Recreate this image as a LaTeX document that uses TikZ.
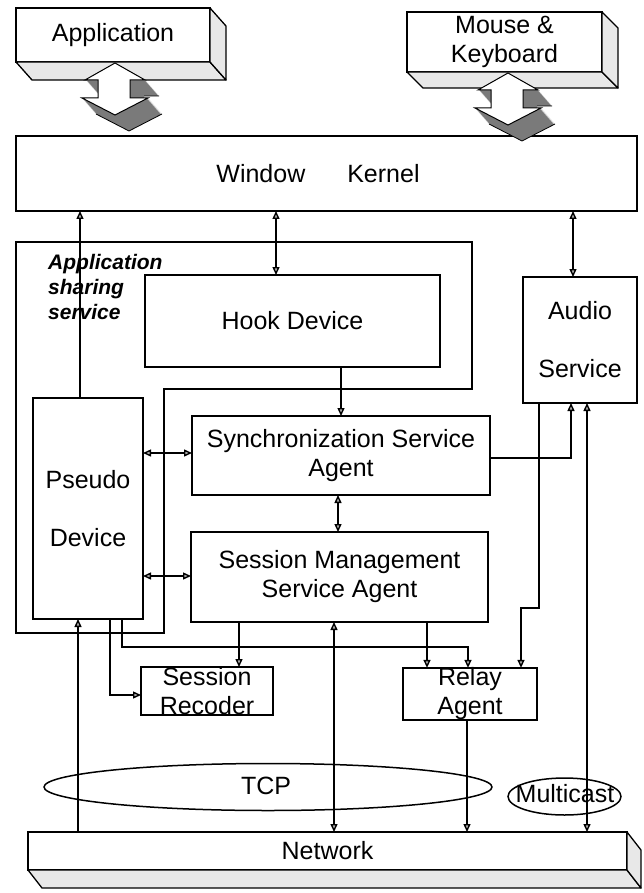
\documentclass[tikz,border=0pt]{standalone}
\usepackage{fontspec}
\setmainfont{Liberation Sans}
\usetikzlibrary{arrows.meta,shapes.geometric}
\begin{document}
\begin{tikzpicture}[x=1pt,y=-1pt,
  box/.style={draw=black, line width=1.9pt, rectangle, inner sep=0pt, outer sep=0pt, align=center, fill=white, font=\fontsize{25}{29}\selectfont},
  face/.style={draw=black, line width=1.3pt, fill=gray!18, line join=round},
  conn/.style={line width=1.4pt},
  >={Triangle[length=8pt,width=7pt,fill=gray!60]},
  ell/.style={draw, ellipse, line width=1.5pt, inner sep=0pt, outer sep=0pt},
  txt/.style={inner sep=0pt, font=\fontsize{25}{29}\selectfont},
  bigarr/.pic={
    \foreach \t in {16,15,...,1}
      \fill[black!52, shift={({\t*14/16},\t)}]
        (115,63) -- (145,80) -- (130,80) -- (130,98) -- (148,98) -- (115,115) -- (82,98) -- (98,98) -- (98,80) -- (85,80) -- cycle;
    \path[draw=black, line width=0.8pt, shift={(14,16)}]
        (145,80) -- (130,80) (148,98) -- (115,115) -- (82,98);
    \path[fill=white, draw=black, line width=1pt, line join=miter]
        (115,63) -- (145,80) -- (130,80) -- (130,98) -- (148,98) -- (115,115) -- (82,98) -- (98,98) -- (98,80) -- (85,80) -- cycle;
  }
]
\useasboundingbox (0,0) rectangle (643,893);

% helper coordinates
\foreach \xx in {78,80,110,122,239,276,334,338,341,427,467,468,521,539,571,573,587}
  \coordinate (x\xx) at (\xx,0);
\foreach \yy in {453,458,576,608,647,695}
  \coordinate (y\yy) at (0,\yy);

% Application 3D box
\node[box, minimum width=194pt, minimum height=54pt] (app) at (113,35) {Application};
\draw[face] (app.south west) -- (app.south east) -- ++(16,18) -- ++(-194,0) -- cycle;
\draw[face] (app.north east) -- ++(16,18) -- ++(0,54) -- (app.south east) -- cycle;

% Mouse & Keyboard 3D box
\node[box, minimum width=195pt, minimum height=60pt] (mouse) at (504.5,42) {Mouse \&\\Keyboard};
\draw[face] (mouse.south west) -- (mouse.south east) -- ++(16,16) -- ++(-195,0) -- cycle;
\draw[face] (mouse.north east) -- ++(16,16) -- ++(0,60) -- (mouse.south east) -- cycle;

% Window Kernel
\node[box, minimum width=621pt, minimum height=75pt] (wk) at (326.5,173.5) {};
\node[txt] (wkt) at (318,174) {Window\hspace{42pt}Kernel};

% big double arrows
\pic at (0,0) {bigarr};
\pic at (393,10) {bigarr};

% application sharing service frame
\draw[line width=1.9pt, line join=miter] (16,242) -- (472,242) -- (472,389) -- (164,389) -- (164,633) -- (16,633) -- cycle;

% boxes
\node[box, minimum width=295pt, minimum height=92pt] (hook) at (292.5,321) {Hook Device};
\node[box, minimum width=114pt, minimum height=126pt] (audio) at (580,340) {Audio\\[29pt]Service};
\node[box, minimum width=110pt, minimum height=221pt] (pseudo) at (88,508.5) {Pseudo\\[29pt]Device};
\node[box, minimum width=298pt, minimum height=79pt] (sync) at (341,455.5) {Synchronization Service\\Agent};
\node[box, minimum width=297pt, minimum height=90pt] (sm) at (339.5,577) {Session Management\\Service Agent};
\node[box, minimum width=132pt, minimum height=48pt] (sr) at (207,691) {Session\\Recoder};
\node[box, minimum width=134pt, minimum height=48pt] (relay) at (470,694) {Relay\\Agent};

\node[anchor=north west, align=left, inner sep=0pt, font=\fontsize{21}{25}\selectfont\bfseries\itshape] (asslabel) at (48,254) {Application\\sharing\\service};

% ellipses
\node[ell, minimum width=448pt, minimum height=47pt] (tcp) at (268,787) {};
\node[txt] (tcpt) at (266,786) {TCP};
\node[ell, minimum width=113pt, minimum height=37pt] (mc) at (564.5,796.5) {};
\node[txt] (mct) at (565,794) {Multicast};

% Network 3D box
\node[box, minimum width=599pt, minimum height=38pt] (net) at (327.5,851) {Network};
\draw[face] (net.south west) -- (net.south east) -- ++(14,18) -- ++(-599,0) -- cycle;
\draw[face] (net.north east) -- ++(14,18) -- ++(0,38) -- (net.south east) -- cycle;

% connectors
\draw[conn,->] (pseudo.north -| x80) -- (wk.south -| x80);
\draw[conn,<->] (hook.north -| x276) -- (wk.south -| x276);
\draw[conn,<->] (audio.north -| x573) -- (wk.south -| x573);
\draw[conn,->] (hook.south -| x341) -- (sync.north -| x341);
\draw[conn,<->] (pseudo.east |- y453) -- (sync.west |- y453);
\draw[conn,<->] (pseudo.east |- y576) -- (sm.west |- y576);
\draw[conn,<->] (sync.south -| x338) -- (sm.north -| x338);
\draw[conn,->] (sync.east |- y458) -| (audio.south -| x571);
\draw[conn,->] (audio.south -| x539) -- (x539 |- y608) -- (x521 |- y608) -- (relay.north -| x521);
\draw[conn,<->] (audio.south -| x587) -- (net.north -| x587);
\draw[conn,->] (sm.south -| x239) -- (sr.north -| x239);
\draw[conn,->] (sm.south -| x427) -- (relay.north -| x427);
\draw[conn,->] (pseudo.south -| x122) -- (x122 |- y647) -- (x468 |- y647) -- (relay.north -| x468);
\draw[conn,->] (pseudo.south -| x110) |- (sr.west |- y695);
\draw[conn,->] (net.north -| x78) -- (pseudo.south -| x78);
\draw[conn,<->] (sm.south -| x334) -- (net.north -| x334);
\draw[conn,->] (relay.south -| x467) -- (net.north -| x467);
\end{tikzpicture}
\end{document}
